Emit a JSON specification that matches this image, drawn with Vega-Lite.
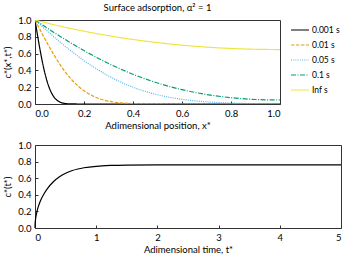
{
  "$schema": "https://vega.github.io/schema/vega-lite/v6.json",
  "padding": {"top": 2, "left": 2, "right": 3, "bottom": 2},
  "spacing": 8,
  "resolve": {"scale": {"color": "independent", "strokeDash": "independent"}, "legend": {"color": "independent", "strokeDash": "independent"}},
  "config": {
    "font": "Lato",
    "view": {"stroke": "#333333", "strokeWidth": 1},
    "axis": {"grid": false, "domain": false, "labelFontSize": 9.5, "titleFontSize": 9.5, "titleFontWeight": "normal", "tickSize": -3, "tickColor": "#333333", "labelColor": "#000000", "titleColor": "#000000", "labelPadding": 7},
    "title": {"fontSize": 9.5, "fontWeight": "normal", "offset": 3},
    "legend": {"title": null, "symbolType": "M-1,0H1", "symbolSize": 324, "symbolStrokeWidth": 1.2, "labelFontSize": 8.5, "offset": 10, "padding": 0, "rowPadding": -3, "labelOffset": 2}
  },
  "datasets": {
    "profiles": [
      {"x": 0, "c": 1, "t": "0.001 s"},
      {"x": 0.01, "c": 0.8231, "t": "0.001 s"},
      {"x": 0.02, "c": 0.6547, "t": "0.001 s"},
      {"x": 0.03, "c": 0.5023, "t": "0.001 s"},
      {"x": 0.04, "c": 0.3711, "t": "0.001 s"},
      {"x": 0.05, "c": 0.2636, "t": "0.001 s"},
      {"x": 0.06, "c": 0.1797, "t": "0.001 s"},
      {"x": 0.07, "c": 0.1175, "t": "0.001 s"},
      {"x": 0.08, "c": 0.0736, "t": "0.001 s"},
      {"x": 0.09, "c": 0.0442, "t": "0.001 s"},
      {"x": 0.10, "c": 0.0253, "t": "0.001 s"},
      {"x": 0.11, "c": 0.0139, "t": "0.001 s"},
      {"x": 0.12, "c": 0.0073, "t": "0.001 s"},
      {"x": 0.13, "c": 0.0036, "t": "0.001 s"},
      {"x": 0.14, "c": 0.0017, "t": "0.001 s"},
      {"x": 0.15, "c": 0.0008, "t": "0.001 s"},
      {"x": 0.2, "c": 0, "t": "0.001 s"},
      {"x": 0.5, "c": 0, "t": "0.001 s"},
      {"x": 1.0, "c": 0, "t": "0.001 s"},
      {"x": 0, "c": 1, "t": "0.01 s"},
      {"x": 0.025, "c": 0.8597, "t": "0.01 s"},
      {"x": 0.05, "c": 0.7237, "t": "0.01 s"},
      {"x": 0.075, "c": 0.5959, "t": "0.01 s"},
      {"x": 0.1, "c": 0.4795, "t": "0.01 s"},
      {"x": 0.125, "c": 0.3767, "t": "0.01 s"},
      {"x": 0.15, "c": 0.2888, "t": "0.01 s"},
      {"x": 0.175, "c": 0.2160, "t": "0.01 s"},
      {"x": 0.2, "c": 0.1573, "t": "0.01 s"},
      {"x": 0.25, "c": 0.0771, "t": "0.01 s"},
      {"x": 0.3, "c": 0.0339, "t": "0.01 s"},
      {"x": 0.35, "c": 0.0133, "t": "0.01 s"},
      {"x": 0.4, "c": 0.0047, "t": "0.01 s"},
      {"x": 0.45, "c": 0.0015, "t": "0.01 s"},
      {"x": 0.5, "c": 0.0004, "t": "0.01 s"},
      {"x": 0.6, "c": 0, "t": "0.01 s"},
      {"x": 1.0, "c": 0, "t": "0.01 s"},
      {"x": 0, "c": 1, "t": "0.05 s"},
      {"x": 0.1, "c": 0.7437, "t": "0.05 s"},
      {"x": 0.2, "c": 0.5171, "t": "0.05 s"},
      {"x": 0.3, "c": 0.3342, "t": "0.05 s"},
      {"x": 0.4, "c": 0.1998, "t": "0.05 s"},
      {"x": 0.5, "c": 0.1101, "t": "0.05 s"},
      {"x": 0.6, "c": 0.0557, "t": "0.05 s"},
      {"x": 0.7, "c": 0.0259, "t": "0.05 s"},
      {"x": 0.8, "c": 0.0111, "t": "0.05 s"},
      {"x": 0.9, "c": 0.0047, "t": "0.05 s"},
      {"x": 1.0, "c": 0.0030, "t": "0.05 s"},
      {"x": 0, "c": 1, "t": "0.1 s"},
      {"x": 0.1, "c": 0.8101, "t": "0.1 s"},
      {"x": 0.2, "c": 0.6360, "t": "0.1 s"},
      {"x": 0.3, "c": 0.4829, "t": "0.1 s"},
      {"x": 0.4, "c": 0.3538, "t": "0.1 s"},
      {"x": 0.5, "c": 0.2499, "t": "0.1 s"},
      {"x": 0.6, "c": 0.1705, "t": "0.1 s"},
      {"x": 0.7, "c": 0.1133, "t": "0.1 s"},
      {"x": 0.8, "c": 0.0753, "t": "0.1 s"},
      {"x": 0.9, "c": 0.0538, "t": "0.1 s"},
      {"x": 1.0, "c": 0.0474, "t": "0.1 s"},
      {"x": 0, "c": 1, "t": "Inf s"},
      {"x": 0.1, "c": 0.9287, "t": "Inf s"},
      {"x": 0.2, "c": 0.8667, "t": "Inf s"},
      {"x": 0.3, "c": 0.8134, "t": "Inf s"},
      {"x": 0.4, "c": 0.7683, "t": "Inf s"},
      {"x": 0.5, "c": 0.7308, "t": "Inf s"},
      {"x": 0.6, "c": 0.7006, "t": "Inf s"},
      {"x": 0.7, "c": 0.6774, "t": "Inf s"},
      {"x": 0.8, "c": 0.6611, "t": "Inf s"},
      {"x": 0.9, "c": 0.6513, "t": "Inf s"},
      {"x": 1.0, "c": 0.6481, "t": "Inf s"}
    ],
    "mean": [
      {"t": 0, "c": 0},
      {"t": 0.001, "c": 0.0357},
      {"t": 0.005, "c": 0.0797},
      {"t": 0.01, "c": 0.1123},
      {"t": 0.02, "c": 0.158},
      {"t": 0.03, "c": 0.1925},
      {"t": 0.05, "c": 0.2482},
      {"t": 0.075, "c": 0.3014},
      {"t": 0.1, "c": 0.3453},
      {"t": 0.15, "c": 0.4161},
      {"t": 0.2, "c": 0.4725},
      {"t": 0.3, "c": 0.5577},
      {"t": 0.4, "c": 0.6175},
      {"t": 0.5, "c": 0.6597},
      {"t": 0.6, "c": 0.6896},
      {"t": 0.7, "c": 0.7107},
      {"t": 0.8, "c": 0.7256},
      {"t": 1.0, "c": 0.7436},
      {"t": 1.25, "c": 0.7540},
      {"t": 1.5, "c": 0.7584},
      {"t": 2.0, "c": 0.7610},
      {"t": 2.5, "c": 0.7615},
      {"t": 3.0, "c": 0.7616},
      {"t": 4.0, "c": 0.7616},
      {"t": 5.0, "c": 0.7616}
    ]
  },
  "vconcat": [
    {
      "title": {"text": "Surface adsorption, α² = 1", "anchor": "middle"},
      "width": 245,
      "height": 84,
      "data": {"name": "profiles"},
      "mark": {"type": "line", "strokeWidth": 1.2, "interpolate": "monotone", "clip": true},
      "encoding": {
        "x": {"field": "x", "type": "quantitative", "scale": {"domain": [0, 1], "nice": false}, "axis": {"title": "Adimensional position, x*", "values": [0, 0.2, 0.4, 0.6, 0.8, 1.0], "format": ".1f", "titlePadding": 3}},
        "y": {"field": "c", "type": "quantitative", "scale": {"domain": [0, 1], "nice": false}, "axis": {"title": "c*(x*,t*)", "values": [0, 0.2, 0.4, 0.6, 0.8, 1.0], "format": ".1f", "titlePadding": 5}},
        "color": {"field": "t", "type": "nominal", "scale": {"domain": ["0.001 s", "0.01 s", "0.05 s", "0.1 s", "Inf s"], "range": ["#000000", "#E69F00", "#56B4E9", "#009E73", "#F0E442"]}},
        "strokeDash": {"field": "t", "type": "nominal", "scale": {"domain": ["0.001 s", "0.01 s", "0.05 s", "0.1 s", "Inf s"], "range": [[1, 0], [3.5, 1.5], [1, 1.2], [5, 1.5, 1, 1.5], [1, 0]]}}
      }
    },
    {
      "width": 306,
      "height": 83,
      "data": {"name": "mean"},
      "mark": {"type": "line", "strokeWidth": 1.2, "interpolate": "monotone", "color": "#000000"},
      "encoding": {
        "x": {"field": "t", "type": "quantitative", "scale": {"domain": [0, 5], "nice": false}, "axis": {"title": "Adimensional time, t*", "values": [0, 1, 2, 3, 4, 5], "titlePadding": 3}},
        "y": {"field": "c", "type": "quantitative", "scale": {"domain": [0, 1], "nice": false}, "axis": {"title": "c*(t*)", "values": [0, 0.2, 0.4, 0.6, 0.8, 1.0], "format": ".1f", "titlePadding": 5}}
      }
    }
  ]
}
